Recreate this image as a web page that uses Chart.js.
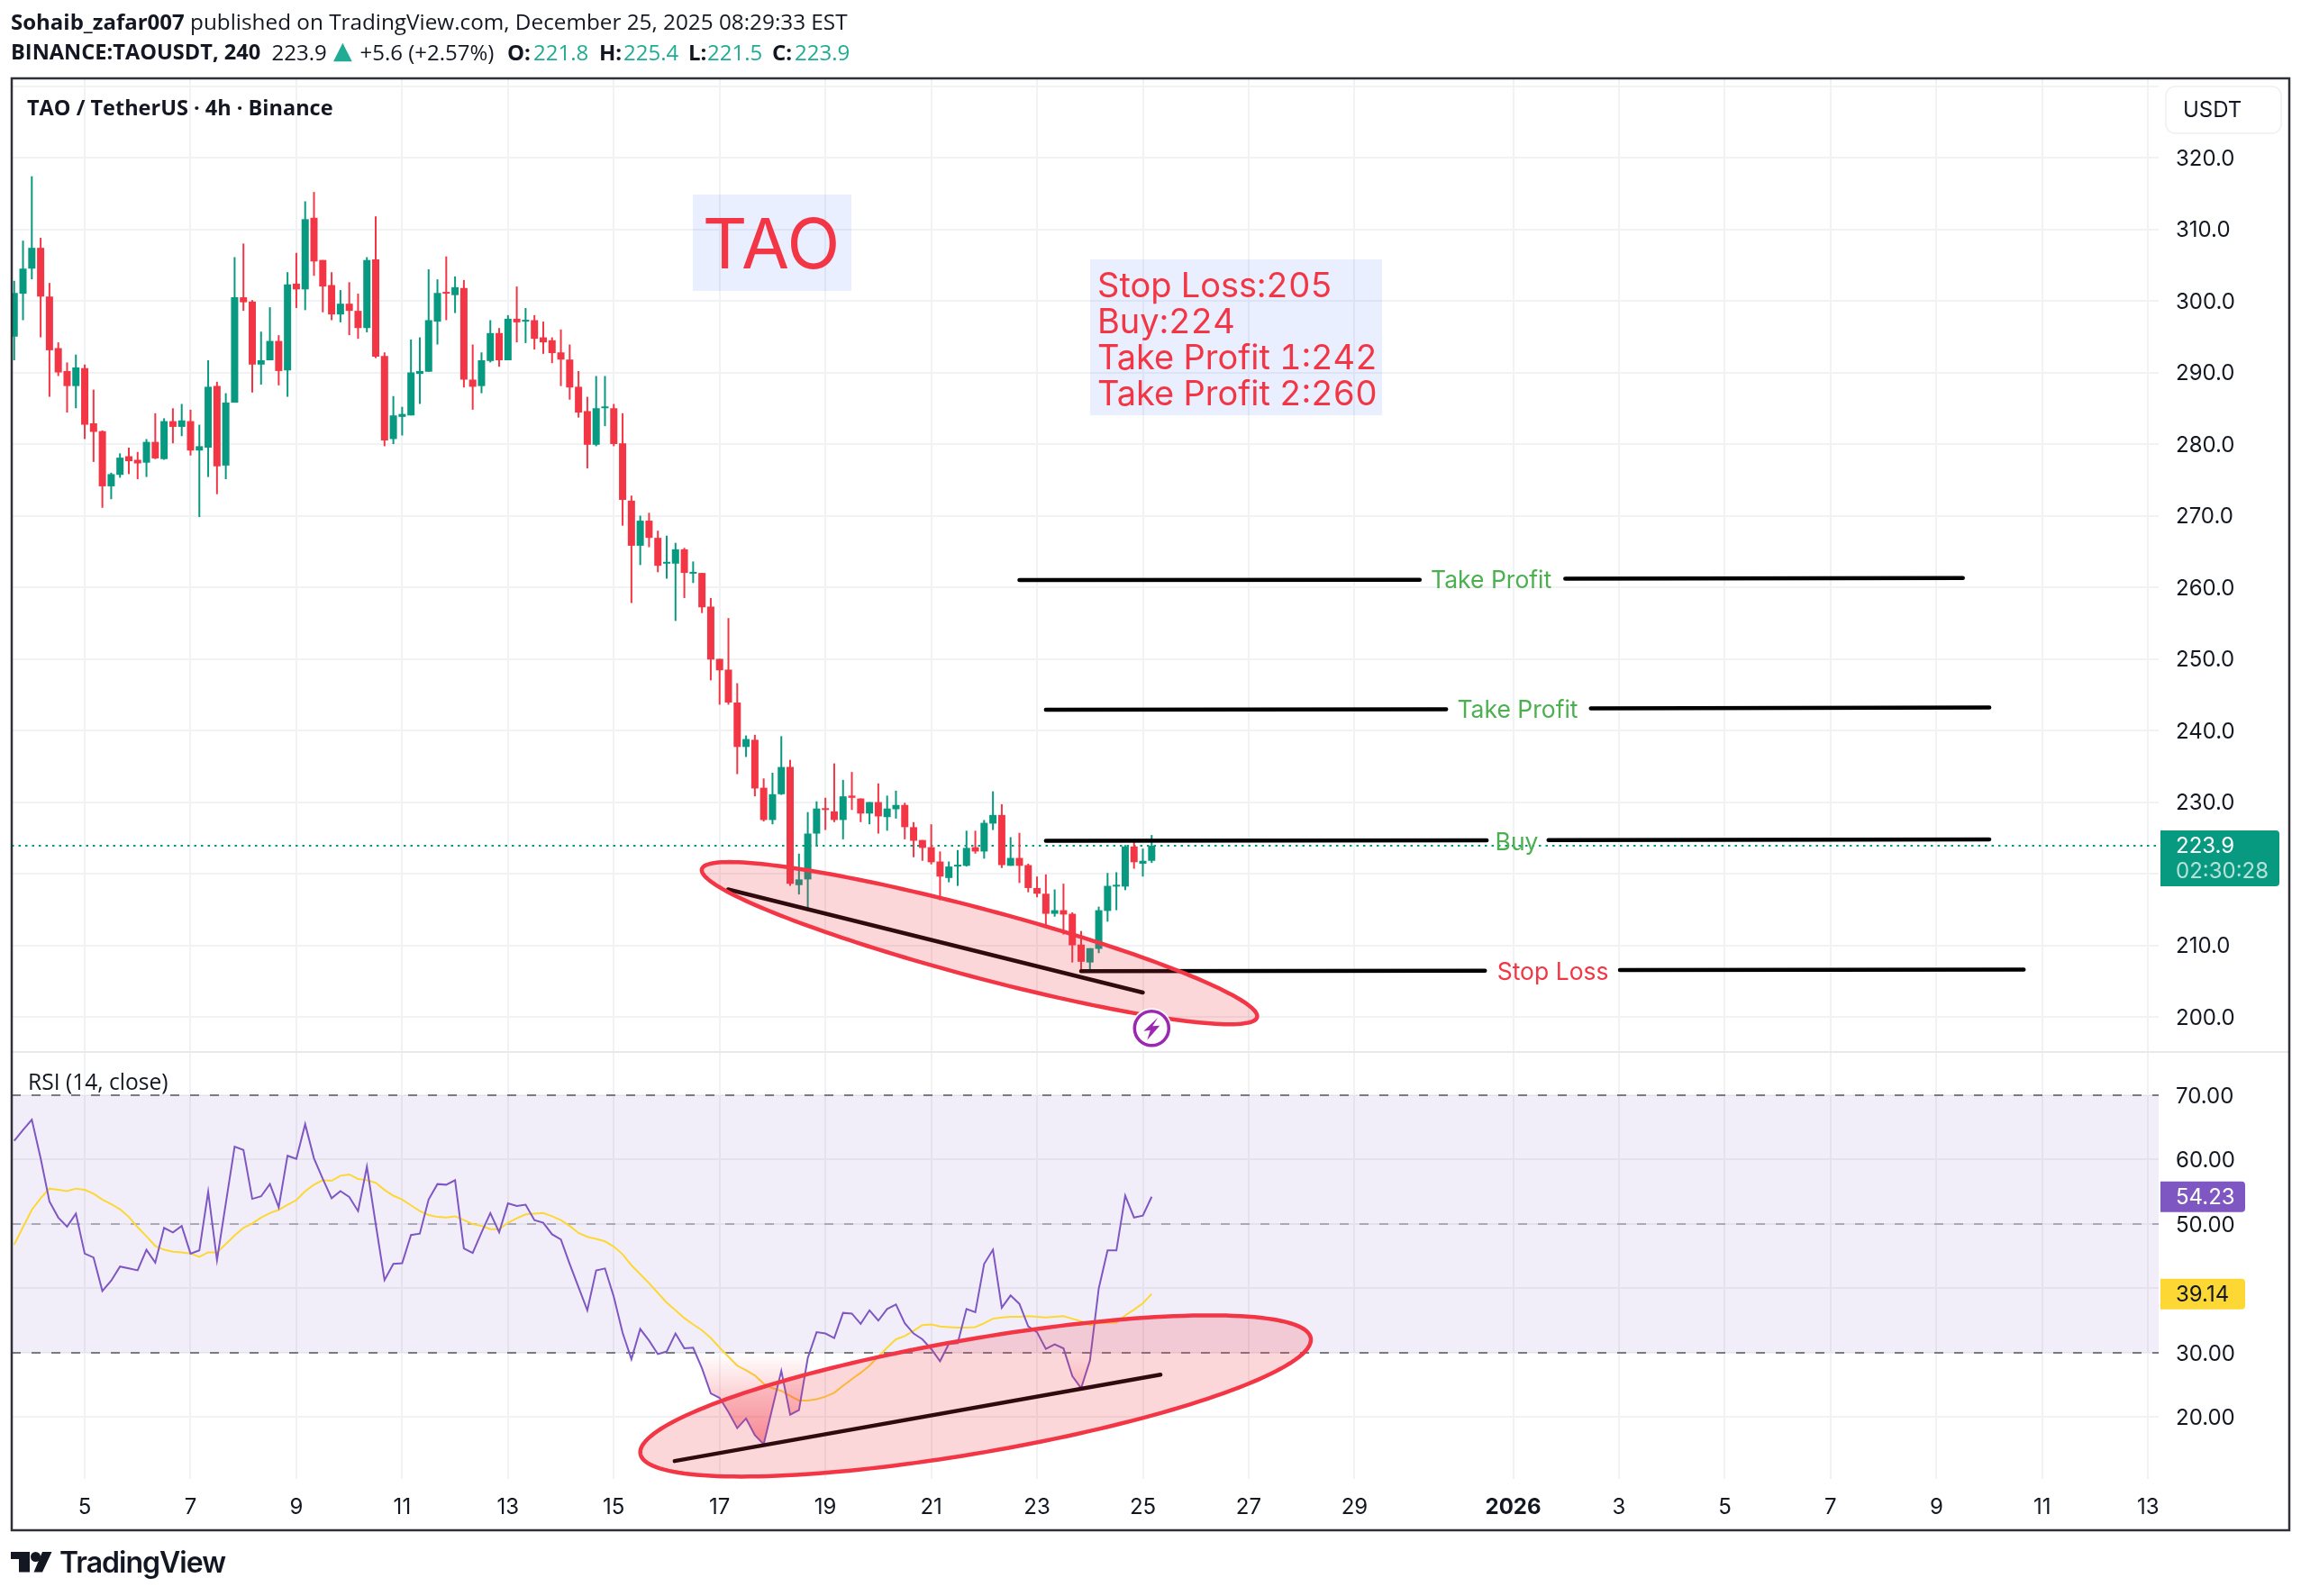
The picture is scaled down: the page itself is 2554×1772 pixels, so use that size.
<!DOCTYPE html>
<html><head><meta charset="utf-8">
<style>
html,body{margin:0;padding:0;background:#fff;width:2554px;height:1772px;overflow:hidden}
canvas{position:absolute;left:0;top:0;display:block}
.t{position:absolute;white-space:pre;color:#131722;font-family:"Open Sans",sans-serif;line-height:1}
.b{font-weight:700}.g{color:#22ab94}
.h2{top:46px;font-size:24px}
</style>
<script src="https://cdn.jsdelivr.net/npm/chart.js@4"></script>
</head><body>
<canvas id="c" width="2554" height="1772"></canvas>
<div class="t" style="left:12px;top:12px;font-size:24.3px"><span class="b" style="font-size:24px">Sohaib_zafar007</span> published on TradingView.com, December 25, 2025 08:29:33 EST</div>
<div class="t h2 b" style="left:12px;font-size:23.6px;top:46.4px">BINANCE:TAOUSDT, 240</div>
<div class="t h2" style="left:301.5px">223.9</div>
<div class="t h2 g" style="left:370px;top:42px;font-family:'DejaVu Sans';font-size:27px;line-height:1">▲</div>
<div class="t h2" style="left:399.5px">+5.6 (+2.57%)</div>
<div class="t h2 b" style="left:563px">O:</div><div class="t h2 g" style="left:592px">221.8</div>
<div class="t h2 b" style="left:665px">H:</div><div class="t h2 g" style="left:692px">225.4</div>
<div class="t h2 b" style="left:764px">L:</div><div class="t h2 g" style="left:785px">221.5</div>
<div class="t h2 b" style="left:857px">C:</div><div class="t h2 g" style="left:882px">223.9</div>
<div class="t b" style="left:30px;top:108px;font-size:23.5px">TAO / TetherUS · 4h · Binance</div>
<div class="t" style="left:31px;top:1189px;font-size:24.6px">RSI (14, close)</div>
<div class="t" style="left:1218px;top:296px;font-family:Inter;font-size:38px;line-height:40px;color:#F23645;font-feature-settings:'tnum'">Stop Loss:205
Buy:224
Take Profit 1:242
Take Profit 2:260</div>
<svg style="position:absolute;left:12px;top:1723px" width="46" height="23" viewBox="0 0 46 23"><path fill="#131722" d="M0 0H21V22.5H9V8H0ZM35 0H45.5L35 22.5H25.5Z"/><circle cx="27.5" cy="5.5" r="5.5" fill="#131722"/></svg>
<div class="t" style="left:66px;top:1719px;font-family:Inter;font-size:32px;font-weight:600;letter-spacing:-1px;color:#131722">TradingView</div>
<script>
const opens=[295.0,301.0,304.5,307.4,300.6,293.4,290.2,288.1,290.6,282.9,
281.8,274.1,275.7,278.3,277.8,277.4,280.3,277.9,283.2,282.4,
283.2,279.1,279.5,288.1,277.0,285.8,300.5,299.9,291.1,291.7,
294.4,290.3,302.4,301.6,311.6,305.7,302.2,298.1,299.6,298.6,
296.2,305.8,292.3,280.7,283.8,284.0,289.8,290.1,297.1,301.2,
300.8,301.8,289.0,288.1,291.6,295.5,291.7,297.5,297.1,297.3,
294.9,294.5,292.8,291.8,288.0,284.6,279.9,285.0,285.0,280.1,
272.1,265.8,269.3,266.9,263.3,263.3,265.3,261.9,262.0,257.3,
250.0,248.5,243.9,237.7,238.7,232.0,227.5,231.1,234.9,218.4,
219.2,225.6,229.1,228.7,227.5,230.9,230.5,228.4,230.0,227.9,
229.0,229.6,226.5,224.7,223.7,221.7,219.4,221.0,221.1,223.7,
223.1,227.0,228.2,221.1,222.2,221.2,218.0,217.2,214.4,214.9,
214.4,210.1,207.6,209.5,214.8,218.2,218.2,223.8,221.4,221.8];
const closes=[301.1,304.5,307.4,300.6,293.1,290.0,288.1,290.7,282.7,281.7,
274.1,275.8,278.1,277.6,277.3,280.3,278.0,283.2,282.4,283.3,
279.1,279.7,288.0,276.9,285.8,300.5,299.8,291.1,291.7,294.4,
290.2,302.3,301.6,311.4,305.5,302.0,298.1,299.6,298.6,296.2,
305.7,292.2,280.5,284.0,284.2,290.0,290.2,297.3,301.1,301.0,
301.9,289.0,288.0,291.7,295.5,291.7,297.5,297.0,297.3,294.7,
294.2,292.7,291.8,287.9,284.4,279.9,285.0,285.2,280.0,272.2,
265.8,269.3,266.9,263.0,263.5,265.3,262.0,262.1,257.2,249.9,
248.4,243.9,237.7,238.8,231.9,227.5,231.1,234.9,218.6,219.2,
225.6,229.1,228.9,227.5,230.8,230.6,228.4,230.0,228.0,229.1,
229.6,226.5,224.6,223.6,221.6,219.6,221.0,221.2,223.6,223.1,
227.1,228.2,221.2,222.2,221.1,218.0,217.2,214.4,214.9,214.3,
210.0,207.7,209.6,214.9,218.3,218.4,223.8,221.6,221.8,223.9];
const highs=[302.8,308.4,317.4,308.8,302.5,294.2,291.4,292.5,291.1,287.6,
281.9,276.0,278.7,279.5,278.9,280.7,284.3,283.6,285.0,285.6,
284.8,282.7,291.7,288.7,287.1,306.1,308.0,300.1,295.7,299.1,
295.2,304.0,306.7,313.9,315.2,305.7,304.0,301.5,302.6,301.0,
306.1,311.8,292.8,286.7,285.2,294.6,294.9,304.4,303.0,306.2,
303.4,302.9,293.9,292.8,297.3,296.2,298.0,302.0,299.0,298.0,
297.1,294.9,296.0,293.9,290.2,286.6,289.5,289.5,285.6,284.3,
272.8,270.0,270.4,267.9,267.2,266.2,265.5,263.6,262.0,258.5,
250.0,255.7,246.6,239.3,239.4,233.3,234.1,239.2,235.9,222.8,
228.6,230.1,230.6,235.4,233.1,234.2,230.5,230.0,232.6,230.9,
231.6,229.9,227.2,224.7,226.9,223.1,221.7,223.3,226.0,226.0,
227.5,231.5,229.7,225.1,225.7,221.4,219.6,219.9,217.8,218.6,
214.6,212.0,209.6,215.4,220.1,220.2,224.0,224.6,223.5,225.4];
const lows=[291.7,297.3,303.0,294.9,286.6,289.5,284.4,285.0,280.7,277.5,
271.1,272.3,275.3,275.8,275.1,275.4,277.9,277.8,280.1,281.1,
278.4,269.8,275.4,273.0,275.1,285.8,298.6,287.2,288.3,291.7,
288.2,286.6,299.0,298.7,303.5,298.4,297.3,297.0,295.2,294.7,
295.6,292.0,279.7,280.0,281.2,284.0,285.6,290.1,293.9,297.3,
298.3,287.9,284.8,287.1,291.4,290.8,291.7,294.2,294.1,293.2,
292.6,291.3,288.1,286.2,283.7,276.6,279.7,282.5,279.7,268.6,
257.8,263.1,265.6,262.1,261.2,255.3,258.5,260.6,256.4,247.0,
243.6,243.6,233.9,236.3,230.8,227.3,226.9,231.0,218.3,217.1,
215.0,223.8,226.1,227.2,224.8,228.9,227.2,226.9,225.6,226.0,
227.7,224.8,222.3,221.8,221.3,216.3,218.8,218.3,221.0,222.8,
222.1,226.1,220.8,221.1,218.7,217.4,216.7,212.8,214.0,211.5,
207.6,206.2,206.6,208.9,213.3,214.9,217.7,220.7,219.6,221.5];
const rsiValues=[62.9,64.6,66.2,60.2,53.5,51.0,49.6,51.6,45.4,44.8,
39.6,41.2,43.4,43.1,42.8,46.0,44.0,49.4,48.7,49.7,
45.4,45.9,55.0,44.4,53.2,62.0,61.5,53.9,54.3,56.2,
52.6,60.6,60.1,65.5,60.2,57.0,54.0,55.1,54.2,52.0,
58.9,50.0,41.3,43.8,43.9,48.3,48.5,53.8,56.2,56.1,
56.8,46.2,45.5,48.7,51.7,48.7,53.2,52.8,53.0,50.6,
50.2,48.4,47.6,43.8,40.2,36.6,42.8,43.1,38.7,33.1,
29.0,33.7,31.9,29.8,30.2,33.0,30.7,30.8,27.6,23.7,
23.0,20.8,18.3,19.8,17.2,15.8,21.5,27.2,20.4,21.1,
29.2,33.2,33.0,32.3,36.2,36.1,34.5,36.6,35.0,36.8,
37.5,34.6,33.0,32.1,30.6,28.7,31.4,31.5,36.8,36.3,
43.8,46.0,37.0,38.9,37.6,34.1,33.2,30.6,31.3,30.7,
26.4,24.5,28.8,40.0,45.9,45.9,54.4,51.0,51.3,54.23];
const rsiAverage=[46.8,49.5,52.2,54.0,55.5,55.3,55.1,55.5,55.3,54.7,
53.8,53.1,52.3,51.1,49.5,48.1,46.6,46.0,45.7,45.6,
45.4,44.9,45.6,45.6,46.9,48.2,49.4,50.1,51.0,51.7,
52.2,53.0,53.7,55.1,56.1,56.8,56.7,57.5,57.7,57.0,
56.8,56.4,55.3,54.4,53.8,52.9,52.0,51.4,51.1,51.0,
51.2,50.6,50.0,49.7,49.2,49.2,50.2,50.9,51.5,51.6,
51.7,51.2,50.6,49.7,48.6,48.0,47.7,47.3,46.5,45.3,
43.6,42.2,40.8,39.3,37.8,36.6,35.4,34.4,33.5,32.3,
30.8,29.4,28.0,27.3,26.5,25.2,24.5,24.1,23.3,22.6,
22.6,22.8,23.2,23.8,24.9,25.9,26.9,28.0,29.4,30.8,
32.1,32.6,33.4,34.3,34.4,34.1,34.0,33.9,33.9,34.0,
34.6,35.3,35.5,35.6,35.6,35.7,35.6,35.5,35.6,35.7,
35.3,34.9,34.3,34.6,34.7,34.7,35.8,36.7,37.7,39.14];
const dayTickPositions=[8,20,32,44,56,68,80,92,104,116,128,140,152,170,182,194,206,218,230,242];
const dayTickLabels=["5","7","9","11","13","15","17","19","21","23","25","27","29","2026","3","5","7","9","11","13"];
const priceTicks=[330,320,310,300,290,280,270,260,250,240,230,220,210,200];
const priceHiddenTicks=[330,220];
const rsiTicks=[70,60,50,40,30,20];
const rsiHiddenTicks=[40];
const rsiLevels=[70,50,30];
const xRange=[-0.28,243.2];
const lastPrice=223.9, lastRsi=54.23, lastAverage=39.14;
// Drawn lines as [i0,v0,i1,v1] in bar index / price units
const priceTrendLines=[
 [114.0,261.0,159.4,261.05],[175.9,261.2,221.0,261.3],
 [117.0,242.9,162.4,242.95],[178.8,243.1,224.0,243.2],
 [117.0,224.6,167.0,224.65],[174,224.7,224.0,224.8],
 [121,206.4,166.8,206.45],[182.1,206.55,227.9,206.6],
 [80.96,217.8,128.0,203.4]];
const rsiTrendLines=[[74.9,13.2,130.0,26.6]];
// Ellipses: centre, end of long axis, end of short axis, in index / value units
const priceEllipse=[109.47,210.3,140.95,199.95,110.47,214.9];
const rsiEllipse=[109.03,23.3,147.04,32.3,107.9,32.0];
const lineNotes=[
 {text:"Take Profit",i:167.5,v:260.9,color:"#4CAF50"},
 {text:"Take Profit",i:170.5,v:242.8,color:"#4CAF50"},
 {text:"Buy",i:170.4,v:224.3,color:"#4CAF50"},
 {text:"Stop Loss",i:174.5,v:206.2,color:"#F23645"}];

const UP="#089981",DOWN="#F23645",FONT='Inter, sans-serif';
const isUp=i=>closes[i]>=opens[i];
const candleColors=opens.map((_,i)=>isUp(i)?UP:DOWN);
const xy=(a)=>a.map((v,i)=>({x:i,y:v}));
const seg=(s,yAxisID)=>({type:'line',yAxisID,data:[{x:s[0],y:s[1]},{x:s[2],y:s[3]}],borderColor:'#000',borderWidth:4.5,borderCapStyle:'round',pointRadius:0,order:0});
const level=(v,alpha)=>({type:'line',yAxisID:'yr',data:xRange.map(x=>({x,y:v})),borderColor:`rgba(120,123,134,${alpha})`,borderWidth:2,borderDash:[10,12],pointRadius:0,order:4});
const datasets=[
 {type:'line',yAxisID:'yr',data:xRange.map(x=>({x,y:70})),borderWidth:0,pointRadius:0,fill:{target:{value:30}},backgroundColor:'rgba(126,87,194,0.1)',order:6},
 level(rsiLevels[0],1),level(rsiLevels[1],.55),level(rsiLevels[2],1),
 {type:'line',yAxisID:'yr',data:xy(rsiAverage),borderColor:'#FDD835',borderWidth:2,pointRadius:0,order:3},
 {type:'line',yAxisID:'yr',data:xy(rsiValues),borderColor:'#7E57C2',borderWidth:2,pointRadius:0,fill:{target:{value:30},above:'rgba(0,0,0,0)',below:'rgba(0,0,0,0)'},order:2,_oversold:true},
 {type:'line',yAxisID:'yp',data:xRange.map(x=>({x,y:lastPrice})),borderColor:UP,borderWidth:2,borderDash:[2.5,5],pointRadius:0,order:5},
 {type:'bar',yAxisID:'yp',data:highs.map((h,i)=>({x:i,y:[lows[i],h]})),backgroundColor:candleColors,barThickness:2,grouped:false,inflateAmount:0,order:2},
 {type:'bar',yAxisID:'yp',data:opens.map((o,i)=>({x:i,y:[o,closes[i]]})),backgroundColor:candleColors,barThickness:8,grouped:false,inflateAmount:0,minBarLength:2,order:1},
 ...priceTrendLines.map(s=>seg(s,'yp')),
 ...rsiTrendLines.map(s=>seg(s,'yr'))
];
function roundBox(ctx,x,y,w,h,r){ctx.beginPath();ctx.roundRect(x,y,w,h,[0,r,r,0]);ctx.fill();}
const overlay={id:'overlay',
 afterLayout(chart){
  const s=chart.scales.yr,ctx=chart.ctx;
  const g=ctx.createLinearGradient(0,s.getPixelForValue(30),0,s.getPixelForValue(14));
  g.addColorStop(0,'rgba(242,54,69,0)');g.addColorStop(1,'rgba(242,54,69,.55)');
  chart.data.datasets.find(d=>d._oversold).fill.below=g;
 },
 afterDatasetsDraw(chart){
  const {ctx,scales}=chart,X=scales.x,P=scales.yp,R=scales.yr;
  const drawEllipse=(e,S)=>{
   const c=[X.getPixelForValue(e[0]),S.getPixelForValue(e[1])];
   const u=[X.getPixelForValue(e[2])-c[0],S.getPixelForValue(e[3])-c[1]];
   const v=[X.getPixelForValue(e[4])-c[0],S.getPixelForValue(e[5])-c[1]];
   ctx.beginPath();
   for(let k=0;k<=180;k++){const t=k/180*2*Math.PI;ctx.lineTo(c[0]+u[0]*Math.cos(t)+v[0]*Math.sin(t),c[1]+u[1]*Math.cos(t)+v[1]*Math.sin(t));}
   ctx.closePath();ctx.fillStyle='rgba(242,54,69,.2)';ctx.fill();ctx.lineWidth=4.5;ctx.strokeStyle='#F23645';ctx.stroke();
  };
  ctx.save();
  drawEllipse(priceEllipse,P);drawEllipse(rsiEllipse,R);
  // lightning marker
  const mx=X.getPixelForValue(129),my=P.getPixelForValue(198.4);
  ctx.beginPath();ctx.arc(mx,my,22.5,0,7);ctx.fillStyle='#fff';ctx.fill();
  ctx.beginPath();ctx.arc(mx,my,19,0,7);ctx.lineWidth=3.5;ctx.strokeStyle='#9C27B0';ctx.stroke();
  ctx.beginPath();[[7,-12],[-9,3],[-1.5,2],[-5,13],[9,-3],[1,-2.5]].forEach(p=>ctx.lineTo(mx+p[0],my+p[1]));ctx.closePath();ctx.fillStyle='#9C27B0';ctx.fill();
  // line notes
  ctx.textAlign='center';ctx.textBaseline='middle';ctx.font='26.5px '+FONT;
  lineNotes.forEach(n=>{ctx.fillStyle=n.color;ctx.fillText(n.text,X.getPixelForValue(n.i),P.getPixelForValue(n.v));});
  // text boxes
  ctx.fillStyle='rgba(41,98,255,.1)';ctx.fillRect(769,216,176,107);ctx.fillRect(1210,288,324,173);
  ctx.fillStyle='#F23645';ctx.font='77px '+FONT;ctx.fillText('TAO',856,275);
  ctx.textAlign='left';
  // scale labels
  const bx=2398;
  ctx.font='24px '+FONT;
  let y=P.getPixelForValue(lastPrice);
  ctx.fillStyle=UP;roundBox(ctx,bx,y-17,132,62,4);
  ctx.fillStyle='#fff';ctx.fillText(String(lastPrice),2415,y+1);
  ctx.fillStyle='rgba(255,255,255,.7)';ctx.fillText('02:30:28',2415,y+29);
  y=R.getPixelForValue(lastRsi);
  ctx.fillStyle='#7E57C2';roundBox(ctx,bx,y-17,94,34,4);
  ctx.fillStyle='#fff';ctx.fillText(lastRsi.toFixed(2),2415,y+1);
  y=R.getPixelForValue(lastAverage);
  ctx.fillStyle='#FDD835';roundBox(ctx,bx,y-17,94,34,4);
  ctx.fillStyle='#131722';ctx.fillText(lastAverage.toFixed(2),2415,y+1);
  // currency button
  ctx.beginPath();ctx.roundRect(2404,96,128,52,10);ctx.fillStyle='#fff';ctx.fill();ctx.lineWidth=1.5;ctx.strokeStyle='#f0f0f2';ctx.stroke();
  ctx.fillStyle='#131722';ctx.fillText('USDT',2423,123);
  // pane separator and frame
  ctx.strokeStyle='#e8e9eb';ctx.lineWidth=2;ctx.beginPath();ctx.moveTo(13,1168);ctx.lineTo(2541,1168);ctx.stroke();
  ctx.strokeStyle='#2f3136';ctx.lineWidth=2.5;ctx.strokeRect(13,87,2528,1612);
  ctx.restore();
 }};
const gridCfg={color:'#f1f2f3',lineWidth:2,drawTicks:false};
const yTicks=(hidden,dec)=>({color:'#131722',font:{family:'Inter',size:24},padding:19,labelOffset:1.5,callback:v=>hidden.includes(v)?'':v.toFixed(dec),autoSkip:false});
new Chart(document.getElementById('c'),{
 type:'line',
 data:{datasets},
 plugins:[overlay],
 options:{
  responsive:false,animation:false,devicePixelRatio:1,
  layout:{padding:{left:13,right:13,top:87,bottom:73}},
  plugins:{legend:{display:false},tooltip:{enabled:false}},
  events:[],
  scales:{
   x:{type:'linear',bounds:'data',min:xRange[0],max:xRange[1],offset:false,
      grid:{...gridCfg,offset:false},border:{display:false},
      afterBuildTicks:s=>{s.ticks=dayTickPositions.map(value=>({value}));},
      afterFit:s=>{s.height=57;},
      ticks:{color:'#131722',padding:17,maxRotation:0,autoSkip:false,align:'center',
        font:c=>({family:'Inter',size:24,weight:c.tick&&c.tick.value===170?'700':'400'}),
        callback:v=>dayTickLabels[dayTickPositions.indexOf(v)]||''}},
   yp:{type:'linear',position:'right',stack:'panes',stackWeight:1081,min:195.1,max:331.07,bounds:'data',
      grid:gridCfg,border:{display:false},ticks:yTicks(priceHiddenTicks,1),
      afterBuildTicks:s=>{s.ticks=priceTicks.map(value=>({value}));},afterFit:s=>{s.width=145;}},
   yr:{type:'linear',position:'right',stack:'panes',stackWeight:474,min:10.42,max:76.71,bounds:'data',
      grid:gridCfg,border:{display:false},ticks:yTicks(rsiHiddenTicks,2),
      afterBuildTicks:s=>{s.ticks=rsiTicks.map(value=>({value}));},afterFit:s=>{s.width=145;}}
  }
 }
});
</script>
</body></html>
